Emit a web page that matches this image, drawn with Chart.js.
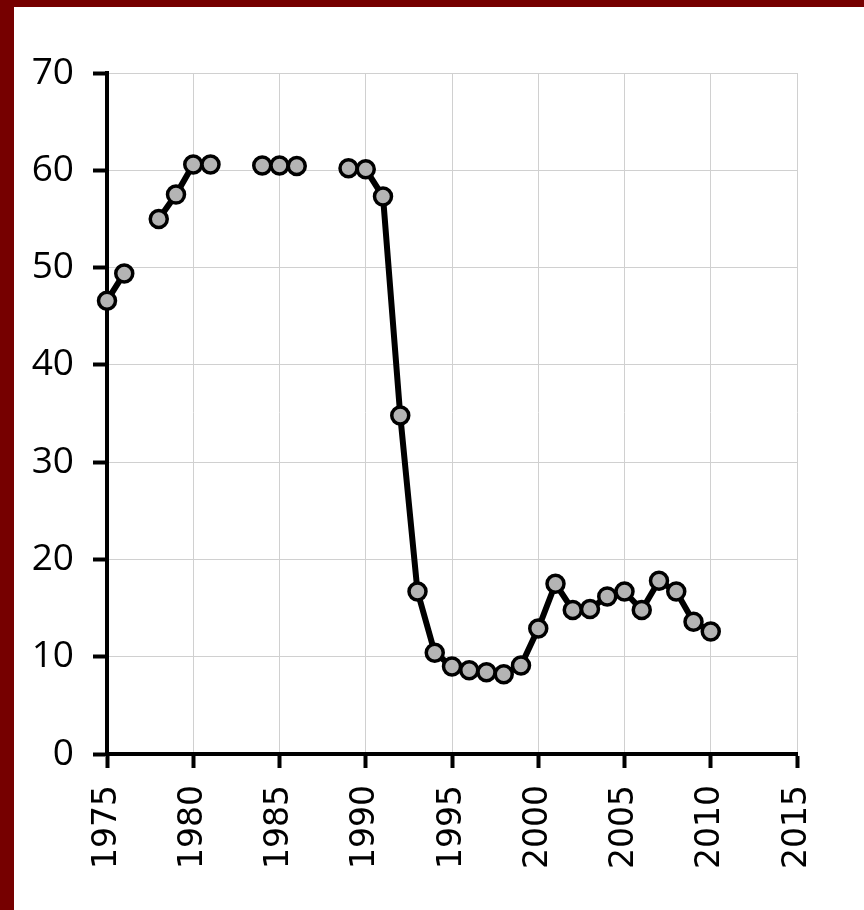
<!DOCTYPE html>
<html>
<head>
<meta charset="utf-8">
<script src="https://cdn.jsdelivr.net/npm/chart.js@4.4.0/dist/chart.umd.min.js"></script>
<style>
  html, body { margin: 0; padding: 0; background: #760000; }
  #box { position: absolute; left: 14px; top: 7px; width: 850px; height: 903px; background: #fff; }
</style>
</head>
<body>
<div id="box"><canvas id="myChart"></canvas></div>
<script>
// years and values (null = no data that year)
const years = [1975, 1976, 1977, 1978, 1979, 1980, 1981, 1982, 1983, 1984, 1985, 1986,
  1987, 1988, 1989, 1990, 1991, 1992, 1993, 1994, 1995, 1996, 1997, 1998, 1999,
  2000, 2001, 2002, 2003, 2004, 2005, 2006, 2007, 2008, 2009, 2010];
const values = [46.6, 49.4, null, 55.0, 57.5, 60.6, 60.6, null, null, 60.5, 60.5, 60.45,
  null, null, 60.2, 60.1, 57.3, 34.8, 16.7, 10.4, 9.0, 8.6, 8.4, 8.2, 9.1,
  12.9, 17.5, 14.8, 14.9, 16.2, 16.7, 14.8, 17.8, 16.7, 13.6, 12.6];
const xMin = 1975, xMax = 2015, xStep = 5;
const yMin = 0, yMax = 70, yStep = 10;

const points = years.map((yr, i) => ({ x: yr, y: values[i] }));

const ctx = document.getElementById('myChart').getContext('2d');
const myChart = new Chart(ctx, {
  type: 'line',
  data: {
    datasets: [{
      data: points,
      borderColor: '#000',
      borderWidth: 6,
      tension: 0,
      spanGaps: false,
      pointRadius: 8.5,
      pointHoverRadius: 8.5,
      pointBackgroundColor: '#b4b4b4',
      pointBorderColor: '#000',
      pointBorderWidth: 3.5,
      clip: false
    }]
  },
  options: {
    responsive: true,
    maintainAspectRatio: false,
    animation: false,
    layout: { padding: { top: 66, right: 67, bottom: 0, left: 0 } },
    plugins: {
      legend: { display: false },
      tooltip: { enabled: false }
    },
    scales: {
      x: {
        type: 'linear',
        min: xMin,
        max: xMax,
        afterFit: s => { s.height = 156; },
        border: { color: '#000', width: 4 },
        grid: { color: '#d0d0d0', lineWidth: 1, tickColor: '#000', tickWidth: 4, tickLength: 14 },
        ticks: {
          stepSize: xStep,
          minRotation: 90,
          maxRotation: 90,
          padding: 17,
          color: '#000',
          font: { family: 'DejaVu Sans', size: 33 },
          callback: v => String(v)
        }
      },
      y: {
        min: yMin,
        max: yMax,
        afterFit: s => { s.width = 93; },
        border: { color: '#000', width: 4 },
        grid: { color: '#d0d0d0', lineWidth: 1, tickColor: '#000', tickWidth: 4, tickLength: 14 },
        ticks: {
          stepSize: yStep,
          padding: 19,
          color: '#000',
          font: { family: 'Open Sans', size: 37 }
        }
      }
    }
  }
});
</script>
</body>
</html>
